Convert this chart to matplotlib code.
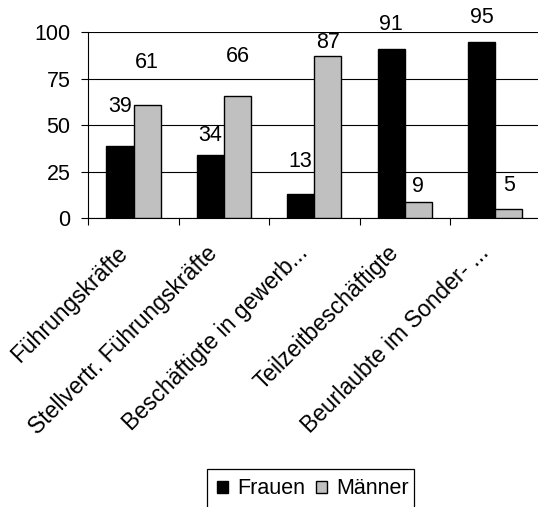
import matplotlib
matplotlib.use("Agg")
import matplotlib.pyplot as plt
from matplotlib.patches import Rectangle
from matplotlib.transforms import ScaledTranslation
import numpy as np

plt.rcParams['font.family'] = ['Liberation Sans', 'DejaVu Sans']

categories = ["Führungskräfte", "Stellvertr. Führungskräfte", "Beschäftigte in gewerb...",
              "Teilzeitbeschäftigte", "Beurlaubte im Sonder- ..."]
frauen = [39, 34, 13, 91, 95]
maenner = [61, 66, 87, 9, 5]
yticks = [0, 25, 50, 75, 100]

# label vertical offsets (points, label centre above bar top) as in the reference
off_f = [28.3, 13.9, 23.8, 17.5, 17.3]
off_m = [30.7, 28.1, 10.1, 11.2, 16.6]

FS = 15.5
FSX = 16.5
W, H = 538, 507
fig = plt.figure(figsize=(W / 100, H / 100), dpi=100)
ax_left, ax_right, ax_top, ax_bot = 88.3, 540.3, 32.3, 218.3
ax = fig.add_axes([ax_left / W, (H - ax_bot) / H, (ax_right - ax_left) / W, (ax_bot - ax_top) / H])

x = np.arange(len(categories))
bw = 0.3
bf = ax.bar(x - bw / 2, frauen, bw, color='black', edgecolor='black', linewidth=1, label='Frauen', zorder=3)
bm = ax.bar(x + bw / 2, maenner, bw, color='#C0C0C0', edgecolor='black', linewidth=1, label='Männer', zorder=3)

for rect, v, o in zip(bf, frauen, off_f):
    ax.annotate(str(v), (rect.get_x() + rect.get_width() / 2, v), xytext=(0, o),
                textcoords='offset points', ha='center', va='center', fontsize=FS,
                annotation_clip=False)
for rect, v, o in zip(bm, maenner, off_m):
    ax.annotate(str(v), (rect.get_x() + rect.get_width() / 2, v), xytext=(0, o),
                textcoords='offset points', ha='center', va='center', fontsize=FS,
                annotation_clip=False)

ax.set_ylim(0, 100)
ax.set_xlim(-0.5, 4.5)
ax.set_yticks(yticks)
ax.set_yticklabels([str(t) for t in yticks], fontsize=FS)
ax.yaxis.grid(True, color='black', linewidth=0.8, zorder=0)
ax.set_axisbelow(True)
for s in ['top', 'right']:
    ax.spines[s].set_visible(False)
ax.spines['left'].set_linewidth(0.8)
ax.spines['bottom'].set_linewidth(0.8)
ax.tick_params(axis='y', length=4.75, width=0.8, pad=8)

# category boundary ticks
ax.set_xticks(np.arange(len(categories) + 1) - 0.5, minor=False)
ax.set_xticklabels([''] * (len(categories) + 1))
ax.tick_params(axis='x', which='major', length=4.8, width=0.8)
ax.set_xticks(x, minor=True)
ax.set_xticklabels(categories, minor=True, rotation=45, ha='right', va='center',
                   rotation_mode='anchor', fontsize=FSX)
ax.tick_params(axis='x', which='minor', length=0, pad=22.5)
shift = ScaledTranslation(-10 / 100, 0, fig.dpi_scale_trans)
for lab in ax.get_xticklabels(minor=True):
    lab.set_transform(lab.get_transform() + shift)

leg = fig.legend(handles=[bf, bm], labels=['Frauen', 'Männer'], loc='center left',
                 bbox_to_anchor=(216.7 / W, 1 - 489 / H), ncol=2, frameon=False,
                 fontsize=FS, handlelength=0.52, handleheight=0.52,
                 handletextpad=0.42, columnspacing=0.5, borderpad=0, borderaxespad=0)
for h in leg.legend_handles:
    h.set_linewidth(1)
    h.set_edgecolor('black')
fig.patches.append(Rectangle((207.3 / W, -0.05), (414 - 207.3) / W, 0.05 + (H - 469.3) / H,
                             transform=fig.transFigure, fill=False, edgecolor='black',
                             linewidth=0.9, figure=fig))

fig.savefig('out.png', dpi=100)
